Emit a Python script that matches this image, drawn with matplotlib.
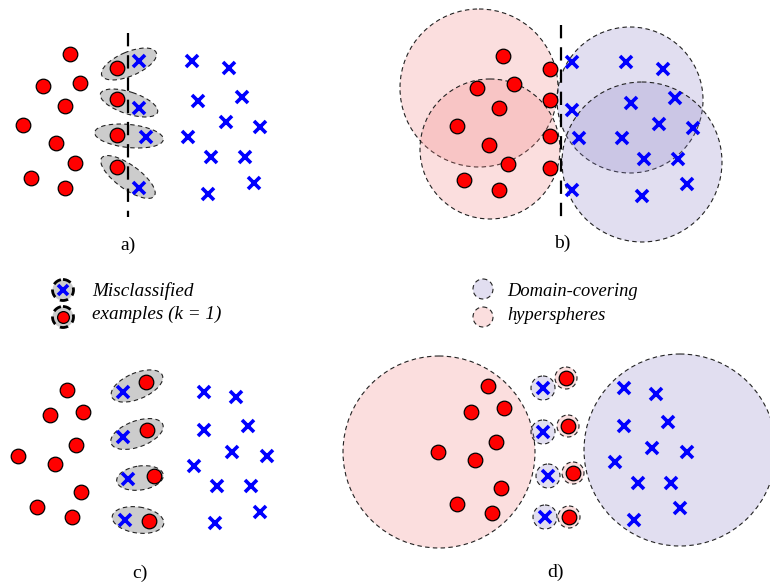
import matplotlib.pyplot as plt
from matplotlib.patches import Circle, Ellipse

# --- panel a) : k-NN with misclassified examples near the boundary
a_red_x = [70, 43, 80, 65, 23, 56, 75, 31, 65]
a_red_y = [54, 86, 83, 106, 125, 143, 163, 178, 188]
a_blue_x = [192, 229, 198, 242, 226, 260, 188, 211, 245, 254, 208]
a_blue_y = [61, 68, 101, 97, 122, 127, 137, 157, 157, 183, 194]
a_mis_red = [(117, 68), (117, 99), (117, 135), (117, 167)]
a_mis_blue = [(139, 61), (139, 108), (146, 137), (139, 188)]
a_ell = [((129, 64), 59, 24, -23), ((129, 103), 60, 22, 18),
         ((129, 136), 69, 23, 6), ((128, 177), 65, 24, 36)]

# --- panel b) : overlapping domain-covering hyperspheres
b_red_x = [503, 550, 477, 514, 499, 550, 457, 550, 489, 508, 550, 464, 499]
b_red_y = [56, 69, 88, 84, 108, 100, 126, 136, 145, 164, 168, 180, 190]
b_blue_x = [572, 626, 663, 572, 631, 675, 579, 622, 659, 693, 644, 678, 572, 642, 687]
b_blue_y = [62, 62, 69, 110, 103, 98, 138, 138, 124, 128, 159, 159, 190, 196, 184]
b_pink = [((479, 88), 79), ((490, 149), 70)]
b_lav = [((630, 100), 73), ((642, 162), 80)]

# --- panel c) : misclassified pairs
c_red_x = [67, 50, 83, 76, 18, 55, 81, 37, 72]
c_red_y = [390, 415, 412, 445, 456, 464, 492, 507, 517]
c_blue_x = [204, 236, 204, 248, 232, 267, 194, 217, 251, 260, 215]
c_blue_y = [392, 397, 430, 426, 452, 456, 466, 486, 486, 512, 523]
c_mis_red = [(146, 382), (147, 430), (154, 476), (149, 521)]
c_mis_blue = [(123, 392), (123, 437), (128, 479), (125, 520)]
c_ell = [((137, 386), 55, 26, -23), ((137, 434), 55, 26, -20),
         ((140, 478), 47, 24, -8), ((138, 520), 52, 26, 8)]

# --- panel d) : separated hyperspheres
d_red_x = [488, 471, 504, 496, 438, 475, 501, 457, 492]
d_red_y = [386, 412, 408, 442, 452, 460, 488, 504, 513]
d_blue_x = [624, 656, 624, 668, 652, 687, 615, 638, 671, 680, 634]
d_blue_y = [388, 394, 426, 422, 448, 452, 462, 483, 483, 508, 520]
d_small_blue = [(543, 388), (543, 432), (548, 476), (545, 517)]
d_small_red = [(566, 378), (568, 426), (573, 473), (569, 517)]
d_pink = ((439, 452), 96)
d_lav = ((680, 450), 96)

labels = ["a)", "b)", "c)", "d)"]
label_pos = [(128, 245), (562, 243), (140, 573), (555, 572)]

RED = "#ff0000"
BLUE = "#0000ff"
PINK = (0.94, 0.5, 0.5, 0.26)
LAV = (0.55, 0.51, 0.78, 0.26)
GREY = "#cccccc"
SERIF = "Liberation Serif"

fig = plt.figure(figsize=(7.7, 5.88), dpi=100)
ax = fig.add_axes([0, 0, 1, 1])
ax.set_xlim(0, 770)
ax.set_ylim(588, 0)
ax.set_aspect("equal")
ax.axis("off")


def reds(xs, ys, ms=10.5):
    ax.plot(xs, ys, "o", ms=ms, mfc=RED, mec="black", mew=0.9, ls="none", zorder=5)


def blues(xs, ys, ms=8.5):
    ax.plot(xs, ys, "x", ms=ms, mec=BLUE, mew=2.6, ls="none", zorder=5)


def sphere(c, r, fc, lw=0.8):
    ax.add_patch(Circle(c, r, fc=fc, ec="#222222", lw=lw, ls=(0, (4, 3)), zorder=2))


def grey_ell(c, w, h, ang):
    ax.add_patch(Ellipse(c, w, h, angle=ang, fc=GREY, ec="#222222", lw=0.8,
                         ls=(0, (4, 3)), zorder=3))


# a)
for c, w, h, ang in a_ell:
    grey_ell(c, w, h, ang)
ax.plot([128, 128], [33, 217], color="black", lw=1.6, ls=(0, (6, 4)), zorder=4)
reds(a_red_x, a_red_y)
reds([p[0] for p in a_mis_red], [p[1] for p in a_mis_red])
blues(a_blue_x, a_blue_y)
blues([p[0] for p in a_mis_blue], [p[1] for p in a_mis_blue])

# b)
for c, r in b_pink:
    sphere(c, r, PINK)
for c, r in b_lav:
    sphere(c, r, LAV)
ax.plot([561, 561], [25, 221], color="black", lw=1.6, ls=(0, (6, 4)), zorder=4)
reds(b_red_x, b_red_y)
blues(b_blue_x, b_blue_y)

# c)
for c, w, h, ang in c_ell:
    grey_ell(c, w, h, ang)
reds(c_red_x, c_red_y)
reds([p[0] for p in c_mis_red], [p[1] for p in c_mis_red])
blues(c_blue_x, c_blue_y)
blues([p[0] for p in c_mis_blue], [p[1] for p in c_mis_blue])

# d)
sphere(d_pink[0], d_pink[1], PINK)
sphere(d_lav[0], d_lav[1], LAV)
for c in d_small_blue:
    sphere(c, 12, LAV)
for c in d_small_red:
    sphere(c, 11, PINK)
reds(d_red_x, d_red_y)
reds([p[0] for p in d_small_red], [p[1] for p in d_small_red])
blues(d_blue_x, d_blue_y)
blues([p[0] for p in d_small_blue], [p[1] for p in d_small_blue])

# panel labels
for lab, (x, y) in zip(labels, label_pos):
    ax.text(x, y, lab, ha="center", va="center", fontsize=14, family=SERIF)

# legend
ax.add_patch(Circle((63, 290), 10.5, fc=GREY, ec="black", lw=2, ls=(0, (3, 2)), zorder=4))
blues([63], [290], ms=6.5)
ax.add_patch(Circle((63, 317), 10.5, fc=GREY, ec="black", lw=2, ls=(0, (3, 2)), zorder=4))
reds([63], [317], ms=8.5)
ax.text(92, 291, "Misclassified", fontsize=13.8, style="italic", family=SERIF, va="center")
ax.text(92, 314, "examples (k = 1)", fontsize=13.8, style="italic", family=SERIF, va="center")

sphere((483, 289), 10, LAV)
sphere((483, 317), 10, PINK)
ax.text(507, 292, "Domain-covering", fontsize=13.3, style="italic", family=SERIF, va="center")
ax.text(507, 315, "hyperspheres", fontsize=13.3, style="italic", family=SERIF, va="center")

fig.savefig("out.png", dpi=100)
